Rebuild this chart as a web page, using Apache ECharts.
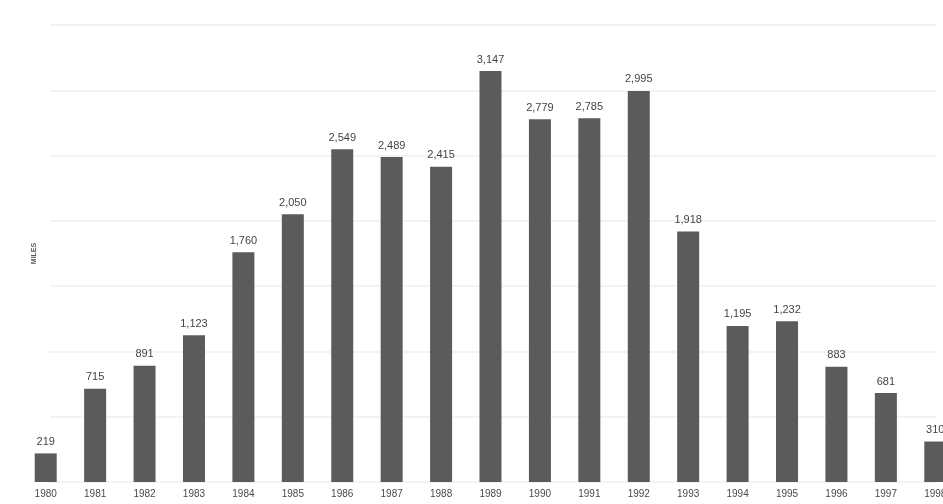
<!DOCTYPE html>
<html>
<head>
<meta charset="utf-8">
<style>
  html, body { margin: 0; padding: 0; background: #ffffff; overflow: hidden; }
  /* canvas is a little wider than the page; the last band runs off the right edge */
  #chart { width: 960px; height: 504px; }
</style>
<script src="https://cdn.jsdelivr.net/npm/echarts@6/dist/echarts.min.js"></script>
</head>
<body>
<div id="chart"></div>
<script>
// Miles per year, 1980–1998
const years = ['1980', '1981', '1982', '1983', '1984', '1985', '1986', '1987', '1988', '1989',
               '1990', '1991', '1992', '1993', '1994', '1995', '1996', '1997', '1998'];
const miles = [219, 715, 891, 1123, 1760, 2050, 2549, 2489, 2415, 3147,
               2779, 2785, 2995, 1918, 1195, 1232, 883, 681, 310];
const yTicks = [0, 500, 1000, 1500, 2000, 2500, 3000, 3500];

const yMin = yTicks[0];
const yMax = yTicks[yTicks.length - 1];
const yStep = yTicks[1] - yTicks[0];

const labelFont = '"Liberation Sans Narrow", "Liberation Sans", Arial, sans-serif';
const chart = echarts.init(document.getElementById('chart'), null, { renderer: 'canvas' });

chart.setOption({
  backgroundColor: '#ffffff',
  animation: false,
  grid: [
    // bars
    { left: 21, right: 0, top: 25, bottom: 22, containLabel: false },
    // background rules
    { left: 50, right: 23, top: 25, bottom: 22, containLabel: false }
  ],
  xAxis: [
    {
      gridIndex: 0,
      type: 'category',
      data: years,
      boundaryGap: true,
      axisLine: { show: false },
      axisTick: { show: false },
      axisLabel: {
        color: '#4a4a4a',
        fontSize: 10,
        fontFamily: labelFont,
        margin: 7,
        interval: 0
      }
    },
    {
      gridIndex: 1,
      type: 'value',
      show: false
    }
  ],
  yAxis: [
    {
      gridIndex: 0,
      type: 'value',
      min: yMin,
      max: yMax,
      interval: yStep,
      axisLine: { show: false },
      axisTick: { show: false },
      axisLabel: { show: false },
      splitLine: { show: false },
      name: 'MILES',
      nameLocation: 'middle',
      nameRotate: 90,
      nameGap: -17,
      nameTextStyle: {
        color: '#555555',
        fontSize: 7,
        fontWeight: 'bold',
        fontFamily: 'Liberation Sans, Arial, sans-serif'
      }
    },
    {
      gridIndex: 1,
      type: 'value',
      min: yMin,
      max: yMax,
      interval: yStep,
      axisLine: { show: false },
      axisTick: { show: false },
      axisLabel: { show: false },
      splitLine: { show: true, lineStyle: { color: '#f3f3f3', width: 2 } }
    }
  ],
  series: [
    {
      type: 'bar',
      xAxisIndex: 0,
      yAxisIndex: 0,
      data: miles,
      barWidth: 22,
      itemStyle: { color: '#5b5b5b' },
      label: {
        show: true,
        position: 'top',
        distance: 6,
        color: '#444444',
        fontSize: 11,
        fontFamily: labelFont,
        formatter: (p) => p.value.toLocaleString('en-US')
      },
      z: 3
    }
  ]
});
</script>
</body>
</html>
